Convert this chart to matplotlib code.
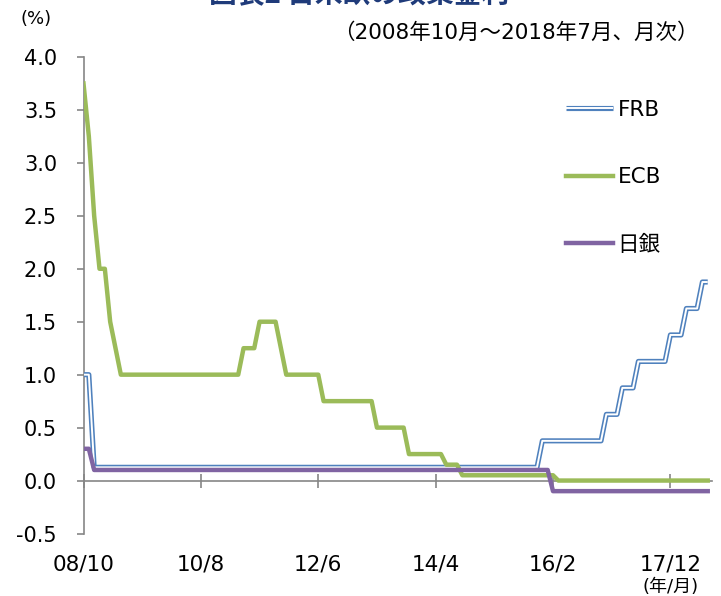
import matplotlib
matplotlib.use('Agg')
import matplotlib.pyplot as plt
from matplotlib.legend_handler import HandlerTuple

plt.rcParams['font.family'] = ['DejaVu Sans', 'Noto Sans CJK JP']

# ---- data: monthly, 2008/10 - 2018/7 ----
frb = [1.0, 1.0, 0.125,                                                                   # 2008 Oct-Dec
       0.125, 0.125, 0.125, 0.125, 0.125, 0.125, 0.125, 0.125, 0.125, 0.125, 0.125, 0.125,  # 2009
       0.125, 0.125, 0.125, 0.125, 0.125, 0.125, 0.125, 0.125, 0.125, 0.125, 0.125, 0.125,  # 2010
       0.125, 0.125, 0.125, 0.125, 0.125, 0.125, 0.125, 0.125, 0.125, 0.125, 0.125, 0.125,  # 2011
       0.125, 0.125, 0.125, 0.125, 0.125, 0.125, 0.125, 0.125, 0.125, 0.125, 0.125, 0.125,  # 2012
       0.125, 0.125, 0.125, 0.125, 0.125, 0.125, 0.125, 0.125, 0.125, 0.125, 0.125, 0.125,  # 2013
       0.125, 0.125, 0.125, 0.125, 0.125, 0.125, 0.125, 0.125, 0.125, 0.125, 0.125, 0.125,  # 2014
       0.125, 0.125, 0.125, 0.125, 0.125, 0.125, 0.125, 0.125, 0.125, 0.125, 0.125, 0.375,  # 2015
       0.375, 0.375, 0.375, 0.375, 0.375, 0.375, 0.375, 0.375, 0.375, 0.375, 0.375, 0.625,  # 2016
       0.625, 0.625, 0.875, 0.875, 0.875, 1.125, 1.125, 1.125, 1.125, 1.125, 1.125, 1.375,  # 2017
       1.375, 1.375, 1.625, 1.625, 1.625, 1.875, 1.875]                                     # 2018 Jan-Jul

ecb = [3.75, 3.25, 2.5,                                                        # 2008 Oct-Dec
       2.0, 2.0, 1.5, 1.25, 1.0, 1.0, 1.0, 1.0, 1.0, 1.0, 1.0, 1.0,            # 2009
       1.0, 1.0, 1.0, 1.0, 1.0, 1.0, 1.0, 1.0, 1.0, 1.0, 1.0, 1.0,             # 2010
       1.0, 1.0, 1.0, 1.25, 1.25, 1.25, 1.5, 1.5, 1.5, 1.5, 1.25, 1.0,         # 2011
       1.0, 1.0, 1.0, 1.0, 1.0, 1.0, 0.75, 0.75, 0.75, 0.75, 0.75, 0.75,       # 2012
       0.75, 0.75, 0.75, 0.75, 0.5, 0.5, 0.5, 0.5, 0.5, 0.5, 0.25, 0.25,       # 2013
       0.25, 0.25, 0.25, 0.25, 0.25, 0.15, 0.15, 0.15, 0.05, 0.05, 0.05, 0.05, # 2014
       0.05, 0.05, 0.05, 0.05, 0.05, 0.05, 0.05, 0.05, 0.05, 0.05, 0.05, 0.05, # 2015
       0.05, 0.05, 0.0, 0.0, 0.0, 0.0, 0.0, 0.0, 0.0, 0.0, 0.0, 0.0,           # 2016
       0.0, 0.0, 0.0, 0.0, 0.0, 0.0, 0.0, 0.0, 0.0, 0.0, 0.0, 0.0,             # 2017
       0.0, 0.0, 0.0, 0.0, 0.0, 0.0, 0.0]                                      # 2018 Jan-Jul

boj = [0.3, 0.3, 0.1,                                                          # 2008 Oct-Dec
       0.1, 0.1, 0.1, 0.1, 0.1, 0.1, 0.1, 0.1, 0.1, 0.1, 0.1, 0.1,             # 2009
       0.1, 0.1, 0.1, 0.1, 0.1, 0.1, 0.1, 0.1, 0.1, 0.1, 0.1, 0.1,             # 2010
       0.1, 0.1, 0.1, 0.1, 0.1, 0.1, 0.1, 0.1, 0.1, 0.1, 0.1, 0.1,             # 2011
       0.1, 0.1, 0.1, 0.1, 0.1, 0.1, 0.1, 0.1, 0.1, 0.1, 0.1, 0.1,             # 2012
       0.1, 0.1, 0.1, 0.1, 0.1, 0.1, 0.1, 0.1, 0.1, 0.1, 0.1, 0.1,             # 2013
       0.1, 0.1, 0.1, 0.1, 0.1, 0.1, 0.1, 0.1, 0.1, 0.1, 0.1, 0.1,             # 2014
       0.1, 0.1, 0.1, 0.1, 0.1, 0.1, 0.1, 0.1, 0.1, 0.1, 0.1, 0.1,             # 2015
       0.1, -0.1, -0.1, -0.1, -0.1, -0.1, -0.1, -0.1, -0.1, -0.1, -0.1, -0.1,  # 2016
       -0.1, -0.1, -0.1, -0.1, -0.1, -0.1, -0.1, -0.1, -0.1, -0.1, -0.1, -0.1, # 2017
       -0.1, -0.1, -0.1, -0.1, -0.1, -0.1, -0.1]                               # 2018 Jan-Jul

series_names = ['FRB', 'ECB', '日銀']
tick_labels = ['08/10', '10/8', '12/6', '14/4', '16/2', '17/12']
y_ticks = [-0.5, 0.0, 0.5, 1.0, 1.5, 2.0, 2.5, 3.0, 3.5, 4.0]

# month categories
months = []
y, m = 2008, 10
while (y, m) <= (2018, 7):
    months.append(f"{y % 100:02d}/{m}")
    m += 1
    if m > 12:
        m = 1
        y += 1
x = list(range(len(months)))

C_FRB = '#4f81bd'
C_ECB = '#9bbb59'
C_BOJ = '#8064a2'
GRAY = '#868686'

fig = plt.figure(figsize=(7.21, 5.96), dpi=100)
ax = fig.add_axes([83.5 / 721, 1 - 533.5 / 596, (712 - 83.5) / 721, (533.5 - 57) / 596])

l_frb_o, = ax.plot(x, frb, color=C_FRB, lw=3.7, solid_joinstyle='round', solid_capstyle='butt', zorder=3)
l_frb_i, = ax.plot(x, frb, color='white', lw=1.4, solid_joinstyle='round', solid_capstyle='butt', zorder=3.1)
l_ecb, = ax.plot(x, ecb, color=C_ECB, lw=3.2, solid_joinstyle='round', zorder=4)
l_boj, = ax.plot(x, boj, color=C_BOJ, lw=3.2, solid_joinstyle='round', zorder=5)

ax.set_xlim(0, 117.8)
ax.set_ylim(-0.5, 4.0)
ax.set_yticks(y_ticks)
ax.set_yticklabels([f"{v:.1f}" for v in y_ticks])
ax.set_xticks([months.index(t) for t in tick_labels])
ax.set_xticklabels(tick_labels)

for s in ['top', 'right']:
    ax.spines[s].set_visible(False)
ax.spines['bottom'].set_position(('data', 0))
for s in ['left', 'bottom']:
    ax.spines[s].set_color(GRAY)
    ax.spines[s].set_linewidth(1.2)
    ax.spines[s].set_zorder(2)

ax.tick_params(axis='y', direction='out', length=5, width=1.2, color=GRAY, pad=14, labelsize=15)
ax.tick_params(axis='x', direction='inout', length=10, width=1.2, color=GRAY, pad=48, labelsize=15.5)

leg = ax.legend([(l_frb_o, l_frb_i), l_ecb, l_boj], series_names,
                handler_map={tuple: HandlerTuple(ndivide=1)},
                loc='upper left', bbox_to_anchor=(566 / 721, 1 - 100 / 596),
                bbox_transform=fig.transFigure, frameon=False, fontsize=15.5,
                handlelength=2.2, handletextpad=0.2, labelspacing=2.2,
                borderpad=0, borderaxespad=0)

fig.text(359 / 721, 0.997, '図表2 日米欧の政策金利', ha='center', va='baseline',
         fontsize=20, fontweight='bold', color='#1f3b7a', family=['Noto Sans CJK JP'])
fig.text(699 / 721, 1 - 33 / 596, '（2008年10月～2018年7月、月次）', ha='right', va='center', fontsize=15.5)
fig.text(36 / 721, 1 - 19 / 596, '(%)', ha='center', va='center', fontsize=13)
fig.text(671 / 721, 1 - 587 / 596, '(年/月)', ha='center', va='center', fontsize=13)

fig.savefig('out.png', dpi=100)
